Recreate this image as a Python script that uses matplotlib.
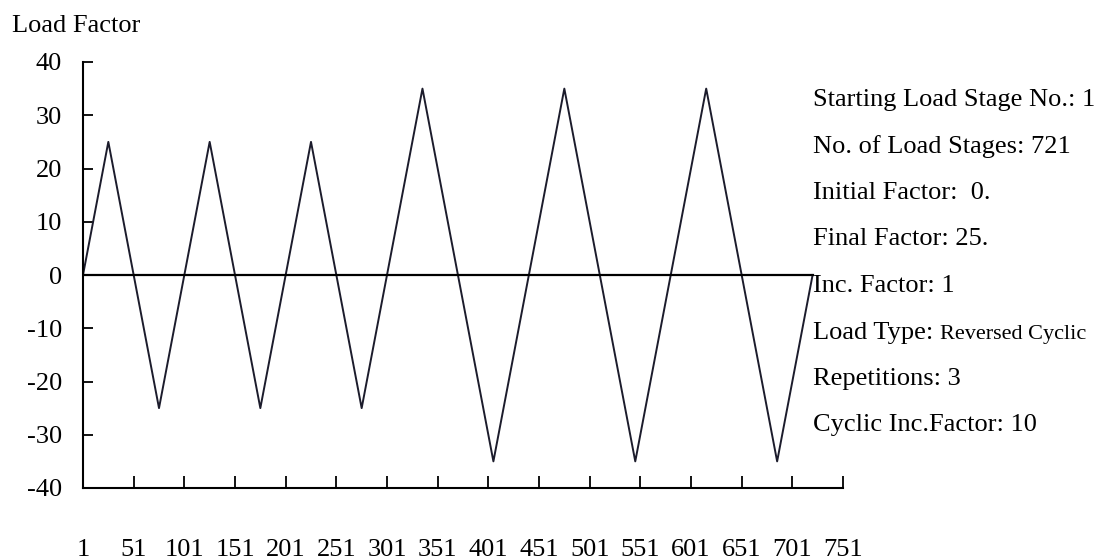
import matplotlib
matplotlib.use("Agg")
import matplotlib.pyplot as plt

plt.rcParams['font.family'] = ['Liberation Serif', 'DejaVu Serif']
plt.rcParams['axes.unicode_minus'] = False

# turning points of the reversed cyclic load history
stage = [1, 26, 76, 126, 176, 226, 276, 336, 406, 476, 546, 616, 686, 721]
load = [0, 25, -25, 25, -25, 25, -25, 35, -35, 35, -35, 35, -35, 0]

x_ticks = list(range(1, 752, 50))
y_ticks = list(range(-40, 41, 10))

info = ["Starting Load Stage No.: 1",
        "No. of Load Stages: 721",
        "Initial Factor:  0.",
        "Final Factor: 25.",
        "Inc. Factor: 1",
        "Load Type: ",
        "Repetitions: 3",
        "Cyclic Inc.Factor: 10"]
load_type = "Reversed Cyclic"

fig = plt.figure(figsize=(11.09, 5.6), dpi=100)
ax = fig.add_axes([83/1109, 1-488/560, (843-83)/1109, (488-62)/560])

ax.plot(stage, load, color='#1c1c2c', lw=1.4)
ax.plot([stage[0], stage[-1]], [0, 0], color='black', lw=1.6)

ax.set_xlim(1, 751)
ax.set_ylim(-40, 40)
ax.set_xticks(x_ticks)
ax.set_yticks(y_ticks)
for s in ['top', 'right']:
    ax.spines[s].set_visible(False)
for s in ['left', 'bottom']:
    ax.spines[s].set_linewidth(1.5)
ax.tick_params(axis='x', direction='in', length=9, width=1.3, pad=37, labelsize=19)
ax.tick_params(axis='y', direction='in', length=7, width=1.3, pad=15, labelsize=19)

fig.text(12/1109, 1-26/560, "Load Factor", fontsize=19, ha='left', va='center')

y0 = 100
for i, line in enumerate(info):
    t = fig.text(813/1109, 1-(y0 + i*46.5)/560, line, fontsize=19, ha='left', va='center')
    if line.startswith("Load Type"):
        ax.annotate(load_type, xy=(1, 0), xycoords=t, fontsize=16,
                    ha='left', va='bottom', annotation_clip=False)

fig.savefig("out.png", dpi=100)
